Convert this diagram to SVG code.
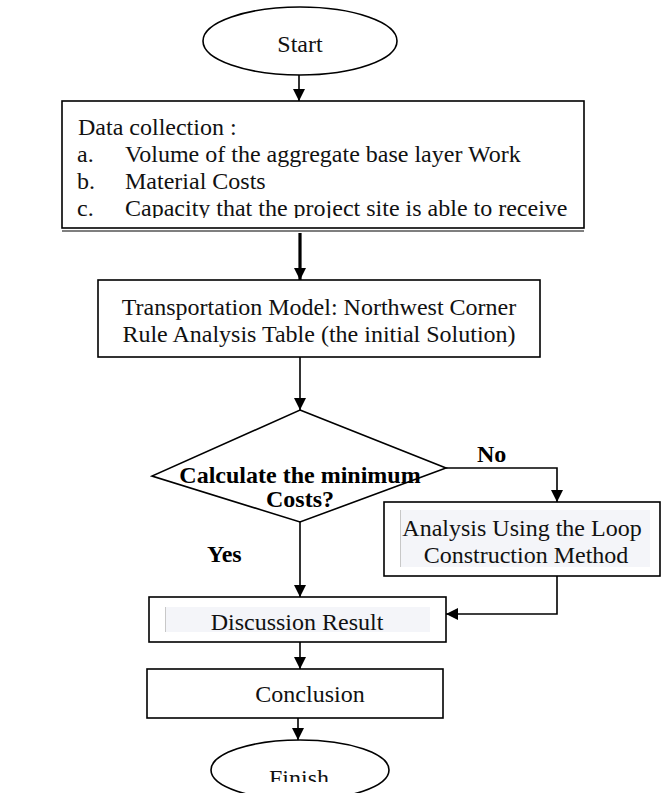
<svg xmlns="http://www.w3.org/2000/svg" width="672" height="793" viewBox="0 0 672 793">
<style>
  .box{fill:#fff;stroke:#000;stroke-width:1.6}
  .t{font-family:"Liberation Serif","Times New Roman",serif;font-size:24px;fill:#111}
  .b{font-family:"Liberation Serif","Times New Roman",serif;font-size:24px;font-weight:bold;fill:#000}
  .c{text-anchor:middle}
  .ln{fill:none;stroke:#000;stroke-width:1.6}
  .thick{fill:none;stroke:#000;stroke-width:3.2}
  .hl{fill:#f4f5f9;stroke:none}
  .hle{stroke:#c8c8c8;stroke-width:1}
</style>
<defs>
  <marker id="ah" viewBox="0 0 12 12" refX="12" refY="6" markerWidth="12" markerHeight="12" markerUnits="userSpaceOnUse" orient="auto">
    <path d="M0,0 L12,6 L0,12 Z" fill="#000"/>
  </marker>
  <clipPath id="clipData"><rect x="62" y="101" width="522" height="117"/></clipPath>
  <clipPath id="clipFinish"><rect x="200" y="740" width="200" height="42"/></clipPath>
</defs>
<rect width="672" height="793" fill="#fff"/>

<g id="start">
  <ellipse cx="300" cy="41" rx="97" ry="34" class="box"/>
  <text x="300" y="52" class="t c">Start</text>
</g>

<g id="data">
  <rect x="62" y="101" width="522" height="127" class="box"/>
  <line x1="62" y1="231" x2="584" y2="231" stroke="#000" stroke-width="1.2"/>
  <g clip-path="url(#clipData)">
    <text x="78" y="135" class="t">Data collection :</text>
    <text x="77" y="162" class="t">a.</text>
    <text x="125" y="162" class="t">Volume of the aggregate base layer Work</text>
    <text x="77" y="189" class="t">b.</text>
    <text x="125" y="189" class="t">Material Costs</text>
    <text x="77" y="216" class="t">c.</text>
    <text x="125" y="216" class="t">Capacity that the project site is able to receive</text>
  </g>
</g>

<g id="transport">
  <rect x="98" y="280" width="442" height="77" class="box"/>
  <text x="319" y="315" class="t c">Transportation Model: Northwest Corner</text>
  <text x="319" y="342" class="t c">Rule Analysis Table (the initial Solution)</text>
</g>

<g id="decision">
  <polygon points="300,410 446,468 300,522 152,476" class="box"/>
  <text x="300" y="483" class="b c">Calculate the minimum</text>
  <text x="300" y="507" class="b c">Costs?</text>
</g>

<g id="loop">
  <rect x="384" y="502" width="276" height="74" class="box"/>
  <rect x="400" y="510" width="250" height="57" class="hl"/>
  <line x1="400.5" y1="510" x2="400.5" y2="567" class="hle"/>
  <text x="522" y="536" class="t c">Analysis Using the Loop</text>
  <text x="526" y="563" class="t c">Construction Method</text>
</g>

<g id="discussion">
  <rect x="149" y="597" width="297" height="45" class="box"/>
  <rect x="165" y="607" width="265" height="25" class="hl"/>
  <line x1="165.5" y1="607" x2="165.5" y2="632" class="hle"/>
  <text x="297" y="630" class="t c">Discussion Result</text>
</g>

<g id="conclusion">
  <rect x="147" y="669" width="296" height="49" class="box"/>
  <text x="310" y="702" class="t c">Conclusion</text>
</g>

<g id="finish">
  <ellipse cx="300" cy="770" rx="89" ry="30" class="box"/>
  <g clip-path="url(#clipFinish)">
    <text x="299" y="786" class="t c">Finish</text>
  </g>
</g>

<g id="labels">
  <text x="477" y="462" class="b">No</text>
  <text x="207" y="562" class="b">Yes</text>
</g>

<g id="connectors">
  <line x1="299" y1="75" x2="299" y2="101" class="ln" marker-end="url(#ah)"/>
  <line x1="300" y1="233" x2="300" y2="280" class="thick" marker-end="url(#ah)"/>
  <line x1="300" y1="357" x2="300" y2="410" class="ln" marker-end="url(#ah)"/>
  <polyline points="446,468 557,468 557,502" class="ln" marker-end="url(#ah)"/>
  <line x1="300" y1="522" x2="300" y2="597" class="ln" marker-end="url(#ah)"/>
  <polyline points="557,576 557,614 446,614" class="ln" marker-end="url(#ah)"/>
  <line x1="300" y1="642" x2="300" y2="669" class="ln" marker-end="url(#ah)"/>
  <line x1="298" y1="718" x2="298" y2="740" class="ln" marker-end="url(#ah)"/>
</g>
</svg>
